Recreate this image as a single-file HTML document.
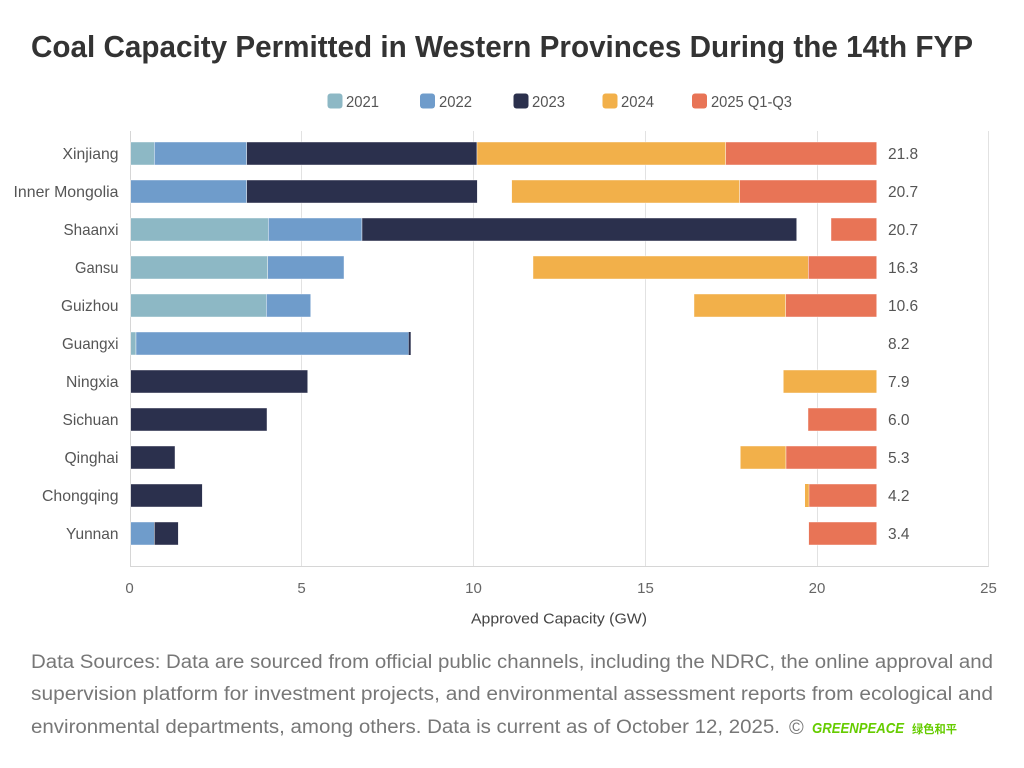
<!DOCTYPE html>
<html>
<head>
<meta charset="utf-8">
<style>
  html, body { margin: 0; padding: 0; background: #ffffff; }
  body { width: 1024px; height: 768px; overflow: hidden; }
  svg { display: block; }
  text { font-family: "Liberation Sans", "Noto Sans CJK SC", sans-serif; }
</style>
</head>
<body>
<svg width="1024" height="768" viewBox="0 0 1024 768" xmlns="http://www.w3.org/2000/svg">
  <rect x="0" y="0" width="1024" height="768" fill="#ffffff"/>

  <!-- Title -->
  <text x="31" y="57" font-size="31" font-weight="bold" fill="#333333" textLength="942" lengthAdjust="spacingAndGlyphs">Coal Capacity Permitted in Western Provinces During the 14th FYP</text>

  <!-- Legend -->
  <g font-size="16" fill="#555555">
    <rect x="327.5" y="93.5" width="15" height="15" rx="3" fill="#8db8c5"/>
    <text x="346" y="107" textLength="33" lengthAdjust="spacingAndGlyphs">2021</text>
    <rect x="420" y="93.5" width="15" height="15" rx="3" fill="#6f9ccb"/>
    <text x="439" y="107" textLength="33" lengthAdjust="spacingAndGlyphs">2022</text>
    <rect x="513.5" y="93.5" width="15" height="15" rx="3" fill="#2b304d"/>
    <text x="532" y="107" textLength="33" lengthAdjust="spacingAndGlyphs">2023</text>
    <rect x="602.5" y="93.5" width="15" height="15" rx="3" fill="#f2b04a"/>
    <text x="621" y="107" textLength="33" lengthAdjust="spacingAndGlyphs">2024</text>
    <rect x="692" y="93.5" width="15" height="15" rx="3" fill="#e87456"/>
    <text x="711" y="107" textLength="81" lengthAdjust="spacingAndGlyphs">2025 Q1-Q3</text>
  </g>

  <!-- Gridlines -->
  <g stroke="#e2e2e2" stroke-width="1">
    <line x1="301.5" y1="131" x2="301.5" y2="567"/>
    <line x1="473.5" y1="131" x2="473.5" y2="567"/>
    <line x1="645.5" y1="131" x2="645.5" y2="567"/>
    <line x1="817.5" y1="131" x2="817.5" y2="567"/>
    <line x1="988.5" y1="131" x2="988.5" y2="567"/>
  </g>
  <g stroke="#d6d6d6" stroke-width="1">
    <line x1="130.5" y1="131" x2="130.5" y2="567"/>
    <line x1="130.5" y1="566.5" x2="988.5" y2="566.5"/>
  </g>

  <!-- Bars -->
  <g stroke="#ffffff" stroke-width="0.6" stroke-opacity="0.7">
    <!-- Xinjiang -->
    <rect x="130.7" y="142" width="23.6" height="23" fill="#8db8c5"/>
    <rect x="154.3" y="142" width="92.4" height="23" fill="#6f9ccb"/>
    <rect x="246.7" y="142" width="230.3" height="23" fill="#2b304d"/>
    <rect x="477" y="142" width="248.7" height="23" fill="#f2b04a"/>
    <rect x="725.7" y="142" width="151" height="23" fill="#e87456"/>
    <!-- Inner Mongolia -->
    <rect x="130.7" y="180" width="116" height="23" fill="#6f9ccb"/>
    <rect x="246.7" y="180" width="230.6" height="23" fill="#2b304d"/>
    <rect x="511.7" y="180" width="228" height="23" fill="#f2b04a"/>
    <rect x="739.7" y="180" width="137" height="23" fill="#e87456"/>
    <!-- Shaanxi -->
    <rect x="130.7" y="218" width="137.6" height="23" fill="#8db8c5"/>
    <rect x="268.3" y="218" width="93.7" height="23" fill="#6f9ccb"/>
    <rect x="362" y="218" width="434.7" height="23" fill="#2b304d"/>
    <rect x="831" y="218" width="45.7" height="23" fill="#e87456"/>
    <!-- Gansu -->
    <rect x="130.7" y="256" width="137" height="23" fill="#8db8c5"/>
    <rect x="267.7" y="256" width="76.3" height="23" fill="#6f9ccb"/>
    <rect x="533" y="256" width="275.3" height="23" fill="#f2b04a"/>
    <rect x="808.3" y="256" width="68.4" height="23" fill="#e87456"/>
    <!-- Guizhou -->
    <rect x="130.7" y="294" width="135.6" height="23" fill="#8db8c5"/>
    <rect x="266.3" y="294" width="44.4" height="23" fill="#6f9ccb"/>
    <rect x="694" y="294" width="91.7" height="23" fill="#f2b04a"/>
    <rect x="785.7" y="294" width="91" height="23" fill="#e87456"/>
    <!-- Guangxi -->
    <rect x="130.7" y="332" width="5.3" height="23" fill="#8db8c5"/>
    <rect x="136" y="332" width="272.7" height="23" fill="#6f9ccb"/>
    <rect x="408.7" y="332" width="2" height="23" fill="#2b304d" stroke="none"/>
    <!-- Ningxia -->
    <rect x="130.7" y="370" width="177" height="23" fill="#2b304d"/>
    <rect x="783.3" y="370" width="93.4" height="23" fill="#f2b04a"/>
    <!-- Sichuan -->
    <rect x="130.7" y="408" width="136.3" height="23" fill="#2b304d"/>
    <rect x="808" y="408" width="68.7" height="23" fill="#e87456"/>
    <!-- Qinghai -->
    <rect x="130.7" y="446" width="44.3" height="23" fill="#2b304d"/>
    <rect x="740.3" y="446" width="45.7" height="23" fill="#f2b04a"/>
    <rect x="786" y="446" width="90.7" height="23" fill="#e87456"/>
    <!-- Chongqing -->
    <rect x="130.7" y="484" width="71.6" height="23" fill="#2b304d"/>
    <rect x="805" y="484" width="4" height="23" fill="#f2b04a" stroke="none"/>
    <rect x="809" y="484" width="67.7" height="23" fill="#e87456"/>
    <!-- Yunnan -->
    <rect x="130.7" y="522" width="23.6" height="23" fill="#6f9ccb"/>
    <rect x="154.3" y="522" width="24" height="23" fill="#2b304d"/>
    <rect x="808.7" y="522" width="68" height="23" fill="#e87456"/>
  </g>

  <!-- Category labels -->
  <g font-size="16" fill="#555555" text-anchor="end">
    <text x="118.5" y="159" textLength="56" lengthAdjust="spacingAndGlyphs">Xinjiang</text>
    <text x="118.5" y="197" textLength="105" lengthAdjust="spacingAndGlyphs">Inner Mongolia</text>
    <text x="118.5" y="235" textLength="55" lengthAdjust="spacingAndGlyphs">Shaanxi</text>
    <text x="118.5" y="273" textLength="43.5" lengthAdjust="spacingAndGlyphs">Gansu</text>
    <text x="118.5" y="311" textLength="57.5" lengthAdjust="spacingAndGlyphs">Guizhou</text>
    <text x="118.5" y="349" textLength="56.5" lengthAdjust="spacingAndGlyphs">Guangxi</text>
    <text x="118.5" y="387" textLength="52.5" lengthAdjust="spacingAndGlyphs">Ningxia</text>
    <text x="118.5" y="425" textLength="56" lengthAdjust="spacingAndGlyphs">Sichuan</text>
    <text x="118.5" y="463" textLength="54" lengthAdjust="spacingAndGlyphs">Qinghai</text>
    <text x="118.5" y="501" textLength="76.5" lengthAdjust="spacingAndGlyphs">Chongqing</text>
    <text x="118.5" y="539" textLength="52.5" lengthAdjust="spacingAndGlyphs">Yunnan</text>
  </g>

  <!-- Value labels -->
  <g font-size="15.5" fill="#555555">
    <text x="888" y="159">21.8</text>
    <text x="888" y="197">20.7</text>
    <text x="888" y="235">20.7</text>
    <text x="888" y="273">16.3</text>
    <text x="888" y="311">10.6</text>
    <text x="888" y="349">8.2</text>
    <text x="888" y="387">7.9</text>
    <text x="888" y="425">6.0</text>
    <text x="888" y="463">5.3</text>
    <text x="888" y="501">4.2</text>
    <text x="888" y="539">3.4</text>
  </g>

  <!-- X tick labels -->
  <g font-size="15" fill="#666666" text-anchor="middle">
    <text x="129.5" y="593">0</text>
    <text x="301.5" y="593">5</text>
    <text x="473.5" y="593">10</text>
    <text x="645.5" y="593">15</text>
    <text x="817" y="593">20</text>
    <text x="988.5" y="593">25</text>
  </g>

  <!-- Axis title -->
  <text x="471" y="623.5" font-size="15" fill="#444444" textLength="176" lengthAdjust="spacingAndGlyphs">Approved Capacity (GW)</text>

  <!-- Footer -->
  <g font-size="19" fill="#777777">
    <text x="31" y="668" textLength="962" lengthAdjust="spacingAndGlyphs">Data Sources: Data are sourced from official public channels, including the NDRC, the online approval and</text>
    <text x="31" y="700" textLength="962" lengthAdjust="spacingAndGlyphs">supervision platform for investment projects, and environmental assessment reports from ecological and</text>
    <text x="31" y="733" textLength="749" lengthAdjust="spacingAndGlyphs">environmental departments, among others. Data is current as of October 12, 2025.</text>
    <text x="789" y="734" font-size="20">©</text>
  </g>
  <text x="812" y="733" font-size="15" font-weight="bold" font-style="italic" fill="#66cc00" textLength="92" lengthAdjust="spacingAndGlyphs">GREENPEACE</text>
  <text x="912" y="733" font-size="11.5" font-weight="bold" fill="#66cc00" font-family="'Liberation Sans', 'Noto Sans CJK SC', sans-serif" textLength="45" lengthAdjust="spacingAndGlyphs">绿色和平</text>
</svg>
</body>
</html>
